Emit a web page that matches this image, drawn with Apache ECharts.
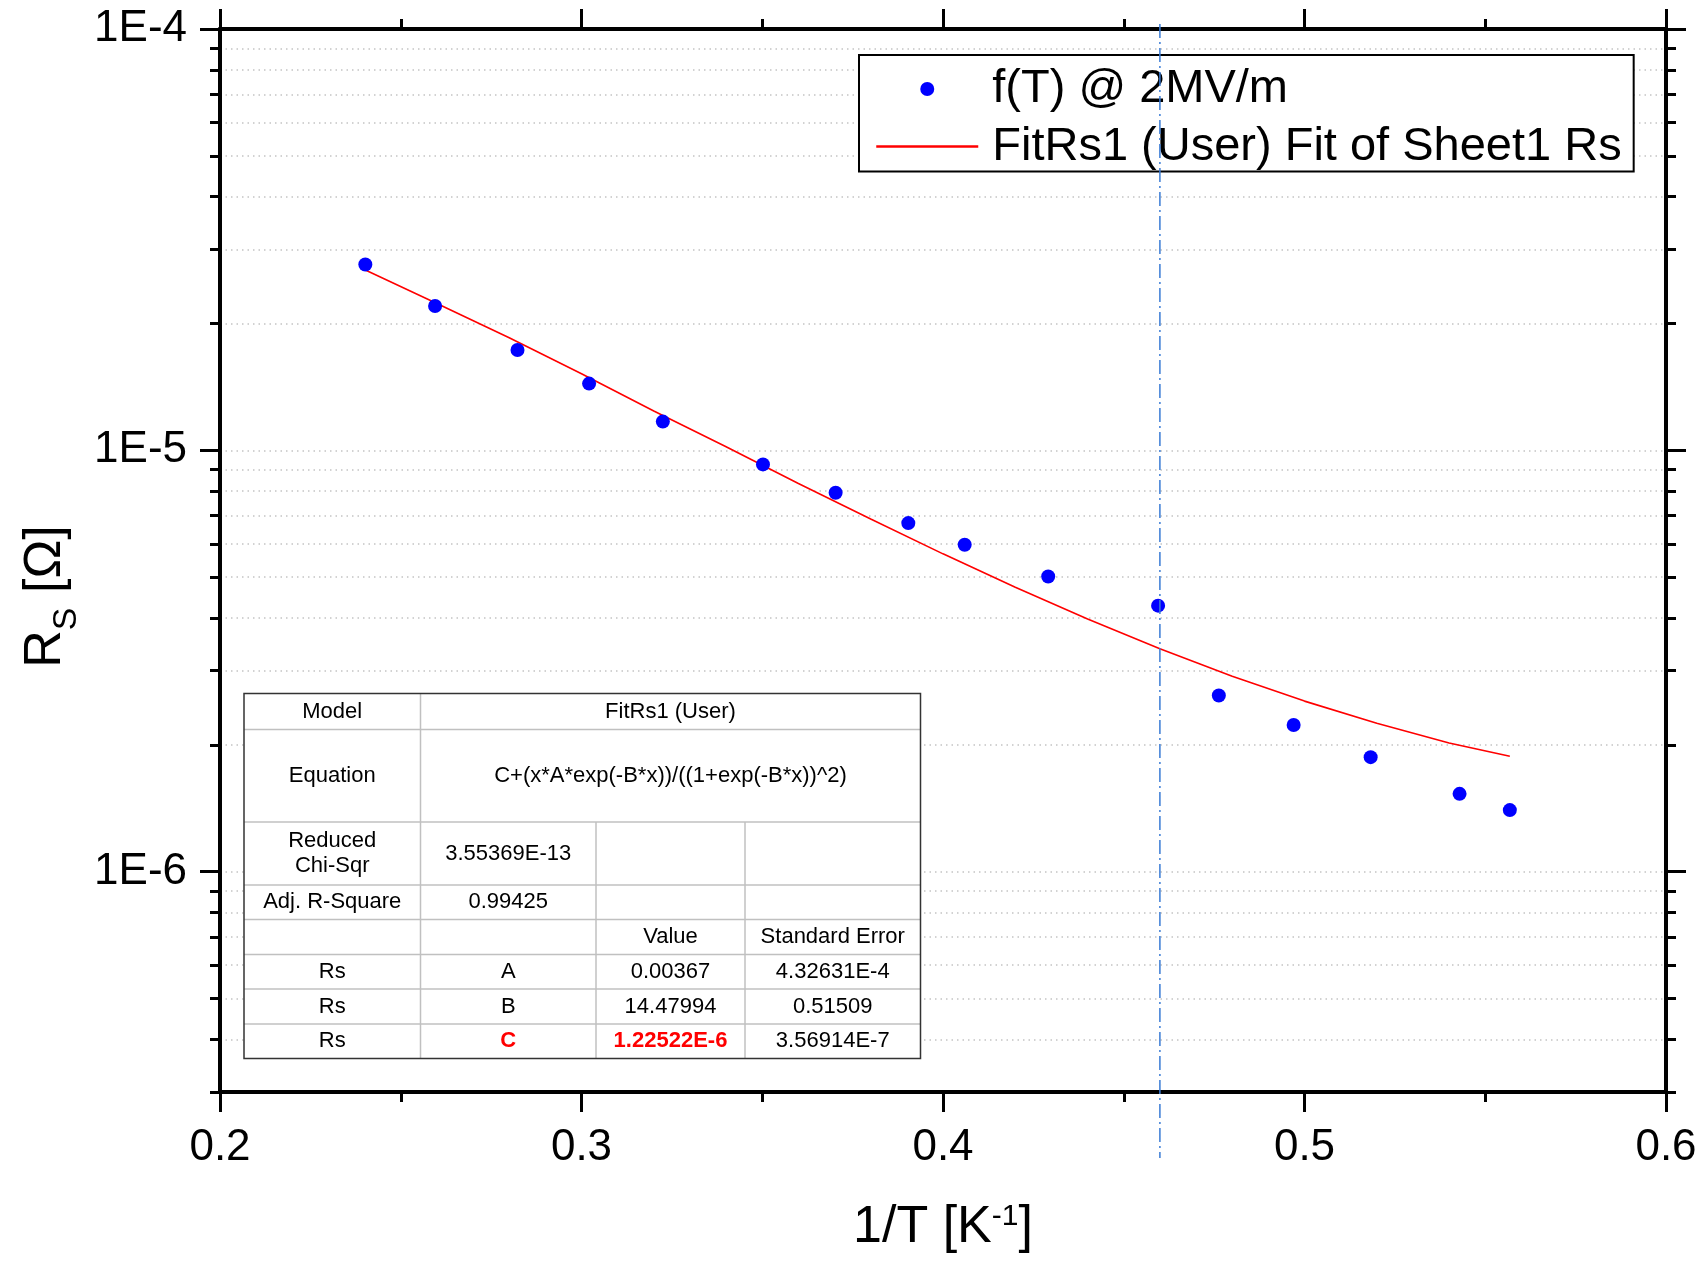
<!DOCTYPE html>
<html><head><meta charset="utf-8">
<script src="https://cdn.jsdelivr.net/npm/echarts@6/dist/echarts.min.js"></script>
<style>html,body{margin:0;padding:0;background:#fff;}#c{width:1702px;height:1266px;}</style>
</head><body><div id="c"></div>
<script>
// ---- data ----
const invT = [0.2402,0.2595,0.2823,0.3021,0.3225,0.3502,0.3703,0.3904,0.4060,0.4291,0.4595,0.4763,0.4970,0.5183,0.5429,0.5568];
const rsMeasured = [2.76e-5,2.20e-5,1.73e-5,1.44e-5,1.17e-5,9.26e-6,7.93e-6,6.72e-6,5.97e-6,5.02e-6,4.28e-6,2.62e-6,2.23e-6,1.87e-6,1.53e-6,1.40e-6];
const fitX = [0.2402,0.26,0.28,0.30,0.32,0.34,0.36,0.38,0.40,0.42,0.44,0.46,0.48,0.50,0.52,0.54,0.5568];
const fitY = [2.68e-5,2.23e-5,1.85e-5,1.52e-5,1.24e-5,1.02e-5,8.34e-6,6.87e-6,5.68e-6,4.73e-6,3.98e-6,3.38e-6,2.91e-6,2.54e-6,2.25e-6,2.02e-6,1.88e-6];
const markerX = 0.46;
const xTickMin = 0.2, xTickMax = 0.6, xTickStep = 0.1;
const yMin = 3e-7, yMax = 1e-4;
const yMajorTicks = [1e-6, 1e-5, 1e-4];
const yMinorTicks = [3e-7,4e-7,5e-7,6e-7,7e-7,8e-7,9e-7,
                     2e-6,3e-6,4e-6,5e-6,6e-6,7e-6,8e-6,9e-6,
                     2e-5,3e-5,4e-5,5e-5,6e-5,7e-5,8e-5,9e-5];
const seriesNames = ['f(T) @ 2MV/m', 'FitRs1 (User) Fit of Sheet1 Rs'];
const tableRows = [
  ['Model', 'FitRs1 (User)'],
  ['Equation', 'C+(x*A*exp(-B*x))/((1+exp(-B*x))^2)'],
  ['Reduced\nChi-Sqr', '3.55369E-13', '', ''],
  ['Adj. R-Square', '0.99425', '', ''],
  ['', '', 'Value', 'Standard Error'],
  ['Rs', 'A', '0.00367', '4.32631E-4'],
  ['Rs', 'B', '14.47994', '0.51509'],
  ['Rs', 'C', '1.22522E-6', '3.56914E-7']
];
const tableRedCells = [[7,1],[7,2]];

// ---- chart ----
const FONT = "'Liberation Sans', Arial, Helvetica, sans-serif";
const chart = echarts.init(document.getElementById('c'), null, {renderer:'canvas'});
const axisLine = {show:true, onZero:false, lineStyle:{color:'#000', width:4}};
const gridLineStyle = {color:'#c4c4c4', width:1.5, type:[1.5,4]};

function xAxisDef(position, showLabel, withName) {
  const a = {
    type:'value', min:xTickMin, max:xTickMax, interval:xTickStep, position,
    axisLine,
    axisTick:{show:true, inside:false, length:20, lineStyle:{color:'#000', width:3}},
    minorTick:{show:true, splitNumber:2, length:10, lineStyle:{color:'#000', width:3}},
    axisLabel:{show:showLabel, fontSize:44, color:'#000', fontFamily:FONT, margin:34,
               formatter:v => v.toFixed(1)},
    splitLine:{show:false}, minorSplitLine:{show:false}
  };
  if (withName) {
    a.name = '1/T [K{sup|-1}]';
    a.nameLocation = 'middle';
    a.nameGap = 110;
    a.nameTextStyle = {fontSize:52, color:'#000', fontFamily:FONT,
      rich:{sup:{fontSize:30, color:'#000', fontFamily:FONT, verticalAlign:'top'}}};
  }
  return a;
}
function yAxisDef(position, ticks, len, showLabel, showSplit, withName) {
  const a = {
    type:'log', logBase:10, min:yMin, max:yMax, position,
    axisLine,
    axisTick:{show:true, inside:false, length:len, customValues:ticks, lineStyle:{color:'#000', width:3}},
    axisLabel:{show:showLabel, customValues:ticks, fontSize:44, color:'#000', fontFamily:FONT, margin:33,
               formatter:v => '1E' + Math.round(Math.log10(v))},
    splitLine:{show:showSplit, lineStyle:gridLineStyle},
    minorTick:{show:false}, minorSplitLine:{show:false}
  };
  if (withName) {
    a.name = '{n|R}{sub|S}{n| [Ω]}';
    a.nameLocation = 'middle';
    a.nameRotate = 90;
    a.nameGap = 136;
    a.nameTextStyle = {fontSize:52, color:'#000', fontFamily:FONT, padding:[0,72,0,0],
      rich:{
        n:{fontSize:52, lineHeight:52, color:'#000', fontFamily:FONT, verticalAlign:'top'},
        sub:{fontSize:34, lineHeight:64, color:'#000', fontFamily:FONT, verticalAlign:'bottom', padding:[30,0,0,0]}
      }};
  }
  return a;
}

const option = {
  animation:false,
  backgroundColor:'#fff',
  textStyle:{fontFamily:FONT},
  grid:{left:220, right:36, top:29, bottom:174, containLabel:false},
  xAxis:[ xAxisDef('bottom', true, true), xAxisDef('top', false, false) ],
  yAxis:[
    yAxisDef('left', yMajorTicks, 20, true, true, true),
    yAxisDef('left', yMinorTicks, 10, false, true, false),
    yAxisDef('right', yMajorTicks, 20, false, false, false),
    yAxisDef('right', yMinorTicks, 10, false, false, false)
  ],
  legend:{
    orient:'vertical', left:859, top:55, padding:[9,12,0,16], itemGap:7.6,
    itemWidth:102, itemHeight:14, backgroundColor:'#fff', borderColor:'#000', borderWidth:2,
    selectedMode:false, z:20,
    textStyle:{fontSize:47, lineHeight:50, color:'#000', fontFamily:FONT, padding:[0,0,0,9]},
    lineStyle:{width:2.5},
    data:[
      {name:seriesNames[0]},
      {name:seriesNames[1], itemStyle:{opacity:0, color:'rgba(0,0,0,0)', borderWidth:0}}
    ]
  },
  series:[
    {type:'scatter', name:seriesNames[0], xAxisIndex:0, yAxisIndex:0,
     data:invT.map((x,i)=>[x, rsMeasured[i]]), symbol:'circle', symbolSize:14,
     itemStyle:{color:'#0000ff', opacity:1}, z:6},
    {type:'line', name:seriesNames[1], xAxisIndex:0, yAxisIndex:0,
     data:fitX.map((x,i)=>[x, fitY[i]]), symbol:'none', showSymbol:false, smooth:false,
     lineStyle:{color:'#ff0000', width:1.6}, itemStyle:{color:'#ff0000'}, z:5}
  ]
};
chart.setOption(option);

// ---- fit table (annotation) ----
const colsX = [244, 420.5, 596, 745, 920.5];
const rowsY = [693.5, 729.5, 822, 885, 919.5, 954.5, 989, 1024, 1058.5];
const g = [];
g.push({type:'rect', shape:{x:colsX[0], y:rowsY[0], width:colsX[4]-colsX[0], height:rowsY[8]-rowsY[0]},
        style:{fill:'#fff', stroke:'none'}, z:50, silent:true});
for (let r = 1; r < rowsY.length - 1; r++) {
  g.push({type:'line', shape:{x1:colsX[0], y1:rowsY[r], x2:colsX[4], y2:rowsY[r]},
          style:{stroke:'#c0c0c0', lineWidth:1.5}, z:51, silent:true});
}
g.push({type:'line', shape:{x1:colsX[1], y1:rowsY[0], x2:colsX[1], y2:rowsY[8]},
        style:{stroke:'#c0c0c0', lineWidth:1.5}, z:51, silent:true});
for (const c of [2,3]) {
  g.push({type:'line', shape:{x1:colsX[c], y1:rowsY[2], x2:colsX[c], y2:rowsY[8]},
          style:{stroke:'#c0c0c0', lineWidth:1.5}, z:51, silent:true});
}
g.push({type:'rect', shape:{x:colsX[0], y:rowsY[0], width:colsX[4]-colsX[0], height:rowsY[8]-rowsY[0]},
        style:{fill:'none', stroke:'#333', lineWidth:1.5}, z:52, silent:true});
tableRows.forEach((row, r) => {
  const yc = (rowsY[r] + rowsY[r+1]) / 2;
  const cells = row.length === 2 ? [[0,1,row[0]],[1,4,row[1]]] : row.map((t,i)=>[i,i+1,t]);
  cells.forEach(([c0,c1,t]) => {
    if (!t) return;
    const red = tableRedCells.some(([rr,cc]) => rr === r && cc === c0);
    g.push({type:'text', x:(colsX[c0]+colsX[c1])/2, y:yc, z:53, silent:true,
      style:{text:t, fill: red ? '#ff0000' : '#000', fontSize:22, fontFamily:FONT,
             fontWeight: red ? 'bold' : 'normal', align:'center', verticalAlign:'middle', lineHeight:25}});
  });
});

// ---- vertical dash-dot marker at 1/T = markerX ----
const mx = chart.convertToPixel({xAxisIndex:0}, markerX);
const yTopPx = chart.convertToPixel({yAxisIndex:0}, yMax);
const yBotPx = chart.convertToPixel({yAxisIndex:0}, yMin);
g.push({type:'line', shape:{x1:mx, y1:yTopPx-5, x2:mx, y2:yBotPx+66},
        style:{stroke:'#3a7bd5', lineWidth:1.5, lineDash:[14,4,2,4]}, z:100, silent:true});

chart.setOption({graphic:{elements:g}});
</script></body></html>
